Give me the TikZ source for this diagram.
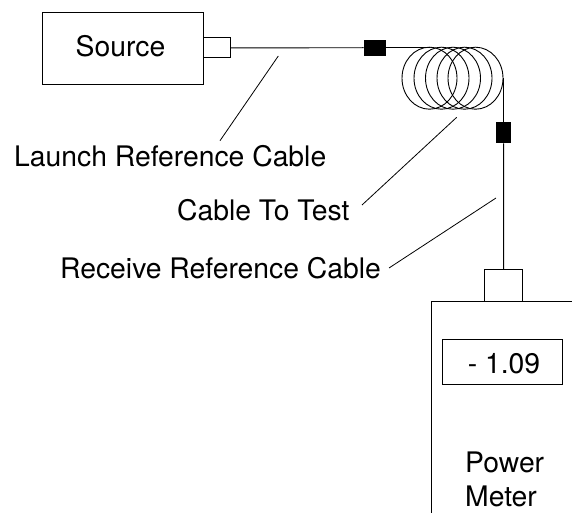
\documentclass[tikz,border=0pt]{standalone}
\usepackage{fontspec}
\setmainfont{TeX Gyre Heros}
\usetikzlibrary{shapes.geometric}
\tikzset{
  box/.style={draw=black,line width=0.9pt,inner sep=0pt,anchor=north west},
  plug/.style={fill=black,draw=none,inner sep=0pt,anchor=north west},
  coil/.style={draw=black,line width=0.9pt,ellipse,inner sep=0pt,minimum width=55pt,minimum height=62pt},
  wire/.style={draw=black,line width=0.9pt},
  leader/.style={draw=black,line width=0.8pt},
  lbl/.style={inner sep=0pt,font=\fontsize{28.3pt}{33pt}\selectfont,anchor=base west,text=black}
}
\begin{document}
\begin{tikzpicture}[x=1pt,y=-1pt]
\useasboundingbox (0,0) rectangle (572,513);
% source
\node[box,minimum width=160.7pt,minimum height=72pt] (src) at (42.3,12) {};
\node[lbl,anchor=base] (srct) at (120.5,56.5) {Source};
\node[box,minimum width=26.5pt,minimum height=20pt] (conn) at (203,37.5) {};
% plugs
\node[plug,minimum width=22pt,minimum height=16pt] (plugA) at (363.5,39.5) {};
\node[plug,minimum width=15.5pt,minimum height=21pt] (plugB) at (495.7,122) {};
% coil
\foreach \i/\cx in {1/429.5,2/441.5,3/453,4/464.5,5/475.5}
  \node[coil] (c\i) at (\cx,78.2) {};
% meter
\node[box,minimum width=38.3pt,minimum height=32pt] (mconn) at (484,269) {};
\coordinate (mtl) at (431.5,301);
\coordinate (mbl) at (431.5,513);
\coordinate (mtr) at (572,301);
\draw[wire] (mbl) -- (mtl) -- (mtr);
\node[box,minimum width=119.7pt,minimum height=45pt] (disp) at (442,339.3) {};
\node[lbl,anchor=base] (dispt) at (504,373) {- 1.09};
\node[lbl] (pw) at (465,472) {Power};
\node[lbl] (mt) at (465,506) {Meter};
% fibre
\draw[wire] (conn.east) -- (plugA.west);
\draw[wire] (plugA.east) -- (plugA.east -| c1.north);
\draw[wire] (c5.east) -- (c5.east -| plugB.north) -- (plugB.north);
\draw[wire] (plugB.south) -- (mconn.north);
% labels
\node[lbl] (ll) at (14,166) {Launch Reference Cable};
\node[lbl] (lc) at (177,220) {Cable To Test};
\node[lbl] (lr) at (60,278) {Receive Reference Cable};
% leaders
\coordinate (la) at (278.3,56);
\coordinate (lb) at (220,140.7);
\coordinate (ca) at (456.7,117.3);
\coordinate (cb) at (362,205);
\coordinate (ra) at (496,198);
\coordinate (rb) at (389,268);
\draw[leader] (la) -- (lb);
\draw[leader] (ca) -- (cb);
\draw[leader] (ra) -- (rb);
\end{tikzpicture}
\end{document}
